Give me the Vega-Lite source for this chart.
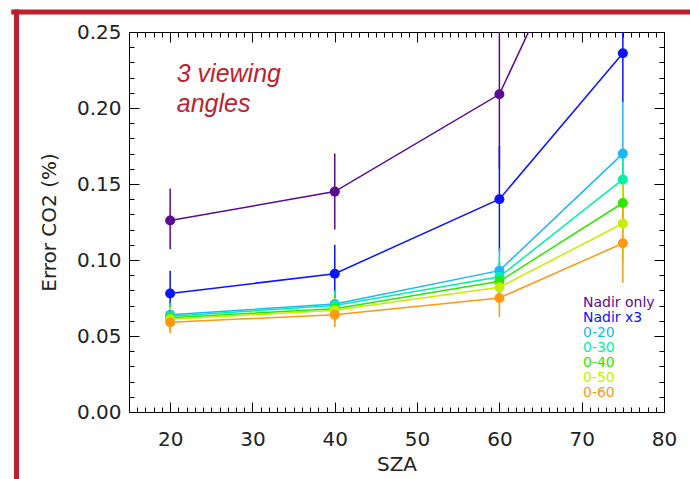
{
  "$schema": "https://vega.github.io/schema/vega-lite/v6.json",
  "width": 535,
  "height": 380,
  "autosize": {"type": "none"},
  "padding": {"left": 129, "top": 32, "right": 26, "bottom": 67},
  "background": "white",
  "config": {
    "view": {"stroke": "black", "strokeWidth": 1},
    "axis": {"grid": false, "domainColor": "black", "tickColor": "black", "labelFont": "DejaVu Sans", "labelFontSize": 20, "labelColor": "#222", "titleFont": "DejaVu Sans", "titleFontSize": 20, "titleFontWeight": "normal", "titleColor": "#222", "labelOverlap": false, "labelFlush": false}
  },
  "data": {"values": [
    {"series": "Nadir only", "sza": 20, "err": 0.126, "lo": 0.107, "hi": 0.147},
    {"series": "Nadir only", "sza": 40, "err": 0.145, "lo": 0.120, "hi": 0.170},
    {"series": "Nadir only", "sza": 60, "err": 0.209, "lo": 0.160, "hi": 0.262},
    {"series": "Nadir only", "sza": 75, "err": 0.383, "lo": 0.300, "hi": 0.460},
    {"series": "Nadir x3", "sza": 20, "err": 0.078, "lo": 0.064, "hi": 0.093},
    {"series": "Nadir x3", "sza": 40, "err": 0.091, "lo": 0.072, "hi": 0.110},
    {"series": "Nadir x3", "sza": 60, "err": 0.140, "lo": 0.106, "hi": 0.175},
    {"series": "Nadir x3", "sza": 75, "err": 0.236, "lo": 0.204, "hi": 0.270},
    {"series": "0-20", "sza": 20, "err": 0.064, "lo": 0.056, "hi": 0.072},
    {"series": "0-20", "sza": 40, "err": 0.071, "lo": 0.062, "hi": 0.080},
    {"series": "0-20", "sza": 60, "err": 0.093, "lo": 0.079, "hi": 0.108},
    {"series": "0-20", "sza": 75, "err": 0.170, "lo": 0.136, "hi": 0.204},
    {"series": "0-30", "sza": 20, "err": 0.063, "lo": 0.055, "hi": 0.071},
    {"series": "0-30", "sza": 40, "err": 0.070, "lo": 0.061, "hi": 0.079},
    {"series": "0-30", "sza": 60, "err": 0.089, "lo": 0.076, "hi": 0.102},
    {"series": "0-30", "sza": 75, "err": 0.153, "lo": 0.137, "hi": 0.168},
    {"series": "0-40", "sza": 20, "err": 0.062, "lo": 0.054, "hi": 0.070},
    {"series": "0-40", "sza": 40, "err": 0.068, "lo": 0.060, "hi": 0.077},
    {"series": "0-40", "sza": 60, "err": 0.086, "lo": 0.074, "hi": 0.098},
    {"series": "0-40", "sza": 75, "err": 0.1375, "lo": 0.122, "hi": 0.153},
    {"series": "0-50", "sza": 20, "err": 0.061, "lo": 0.053, "hi": 0.069},
    {"series": "0-50", "sza": 40, "err": 0.067, "lo": 0.059, "hi": 0.075},
    {"series": "0-50", "sza": 60, "err": 0.082, "lo": 0.070, "hi": 0.094},
    {"series": "0-50", "sza": 75, "err": 0.124, "lo": 0.098, "hi": 0.150},
    {"series": "0-60", "sza": 20, "err": 0.059, "lo": 0.052, "hi": 0.066},
    {"series": "0-60", "sza": 40, "err": 0.064, "lo": 0.056, "hi": 0.072},
    {"series": "0-60", "sza": 60, "err": 0.075, "lo": 0.0625, "hi": 0.088},
    {"series": "0-60", "sza": 75, "err": 0.111, "lo": 0.085, "hi": 0.137}
  ]},
  "resolve": {"axis": {"x": "independent", "y": "independent"}},
  "layer": [
    {
      "data": {"values": [{}]},
      "mark": {"type": "rule", "color": "#be1e2d", "strokeWidth": 5, "strokeCap": "square", "clip": false},
      "encoding": {
        "x": {"datum": 1.0, "type": "quantitative", "scale": {"domain": [15, 80], "nice": false, "zero": false}, "axis": null},
        "x2": {"datum": 86},
        "y": {"datum": 0.2632, "type": "quantitative", "scale": {"domain": [0, 0.25], "nice": false, "zero": false}, "axis": null}
      }
    },
    {
      "data": {"values": [{}]},
      "mark": {"type": "rule", "color": "#be1e2d", "strokeWidth": 5, "strokeCap": "square", "clip": false},
      "encoding": {
        "x": {"datum": 1.33, "type": "quantitative", "scale": {"domain": [15, 80], "nice": false, "zero": false}, "axis": null},
        "y": {"datum": 0.2632, "type": "quantitative", "scale": {"domain": [0, 0.25], "nice": false, "zero": false}, "axis": null},
        "y2": {"datum": -0.08}
      }
    },
    {
      "mark": {"type": "rule", "strokeWidth": 1.5, "clip": true},
      "encoding": {
        "x": {"field": "sza", "type": "quantitative", "scale": {"domain": [15, 80], "nice": false, "zero": false},
          "axis": {"orient": "top", "values": [15,16,17,18,19,20,21,22,23,24,25,26,27,28,29,30,31,32,33,34,35,36,37,38,39,40,41,42,43,44,45,46,47,48,49,50,51,52,53,54,55,56,57,58,59,60,61,62,63,64,65,66,67,68,69,70,71,72,73,74,75,76,77,78,79,80], "labels": false, "title": null, "domain": false,
            "tickSize": {"condition": {"test": "datum.value % 10 === 0", "value": -10}, "value": -5}}},
        "y": {"field": "lo", "type": "quantitative", "scale": {"domain": [0, 0.25], "nice": false, "zero": false},
          "axis": {"orient": "right", "values": [0,0.01,0.02,0.03,0.04,0.05,0.06,0.07,0.08,0.09,0.1,0.11,0.12,0.13,0.14,0.15,0.16,0.17,0.18,0.19,0.2,0.21,0.22,0.23,0.24,0.25], "labels": false, "title": null, "domain": false,
            "tickSize": {"condition": {"test": "abs(datum.value*20 - round(datum.value*20)) < 0.000001", "value": -10}, "value": -5}}},
        "y2": {"field": "hi"},
        "color": {"field": "series", "type": "nominal"}
      }
    },
    {
      "mark": {"type": "line", "strokeWidth": 1.5, "clip": true},
      "encoding": {
        "x": {"field": "sza", "type": "quantitative", "scale": {"domain": [15, 80], "nice": false, "zero": false}, "axis": null},
        "y": {"field": "err", "type": "quantitative", "scale": {"domain": [0, 0.25], "nice": false, "zero": false}, "axis": null},
        "color": {"field": "series", "type": "nominal"}
      }
    },
    {
      "mark": {"type": "point", "filled": true, "size": 100, "opacity": 1, "clip": true},
      "encoding": {
        "x": {"field": "sza", "type": "quantitative", "scale": {"domain": [15, 80], "nice": false, "zero": false},
          "axis": {"orient": "bottom", "values": [15,16,17,18,19,20,21,22,23,24,25,26,27,28,29,30,31,32,33,34,35,36,37,38,39,40,41,42,43,44,45,46,47,48,49,50,51,52,53,54,55,56,57,58,59,60,61,62,63,64,65,66,67,68,69,70,71,72,73,74,75,76,77,78,79,80],
            "labelExpr": "datum.value % 10 === 0 ? datum.label : ''", "format": "d", "title": "SZA", "labelPadding": 27, "titlePadding": 0, "domain": false,
            "tickSize": {"condition": {"test": "datum.value % 10 === 0", "value": -10}, "value": -5}}},
        "y": {"field": "err", "type": "quantitative", "scale": {"domain": [0, 0.25], "nice": false, "zero": false},
          "axis": {"orient": "left", "values": [0,0.01,0.02,0.03,0.04,0.05,0.06,0.07,0.08,0.09,0.1,0.11,0.12,0.13,0.14,0.15,0.16,0.17,0.18,0.19,0.2,0.21,0.22,0.23,0.24,0.25],
            "labelExpr": "abs(datum.value*20 - round(datum.value*20)) < 0.000001 ? format(datum.value, '.2f') : ''", "title": "Error CO2 (%)", "labelPadding": 18, "titlePadding": 17, "domain": false,
            "tickSize": {"condition": {"test": "abs(datum.value*20 - round(datum.value*20)) < 0.000001", "value": -10}, "value": -5}}},
        "color": {"field": "series", "type": "nominal",
          "scale": {"domain": ["Nadir only", "Nadir x3", "0-20", "0-30", "0-40", "0-50", "0-60"], "range": ["#5b0a91", "#0a14ff", "#1cb5ff", "#00f2a6", "#2ee600", "#c4f000", "#ff9812"]},
          "legend": {"orient": "none", "legendX": 440, "legendY": 264, "title": null, "symbolSize": 0, "symbolOpacity": 0, "symbolStrokeWidth": 0, "labelOffset": 0, "labelFont": "DejaVu Sans", "labelFontSize": 14, "rowPadding": 1, "padding": 0, "labelLimit": 200,
            "encode": {"labels": {"update": {"fill": {"scale": "color", "field": "value"}}}}}}
      }
    },
    {
      "data": {"values": [{}]},
      "mark": {"type": "text", "text": ["3 viewing", "angles"], "font": "Liberation Sans", "fontStyle": "italic", "fontSize": 25, "lineHeight": 30, "align": "left", "baseline": "alphabetic", "color": "#be1e2d", "clip": false},
      "encoding": {
        "x": {"datum": 20.8, "type": "quantitative", "scale": {"domain": [15, 80], "nice": false, "zero": false}, "axis": null},
        "y": {"datum": 0.2171, "type": "quantitative", "scale": {"domain": [0, 0.25], "nice": false, "zero": false}, "axis": null}
      }
    }
  ]
}
